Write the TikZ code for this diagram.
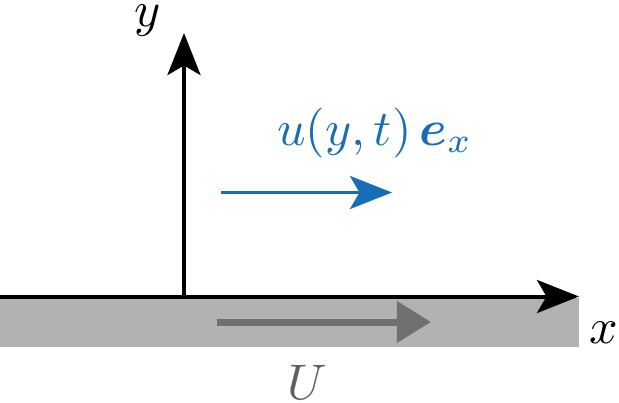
\documentclass[tikz,border=0pt]{standalone}
\usepackage{amssymb}
\usepackage{amsmath}
\usepackage{tikz}
\usetikzlibrary{arrows.meta,positioning}
\definecolor{flowblue}{RGB}{23,110,181}
\definecolor{wallgray}{RGB}{178,178,178}
\definecolor{walldark}{RGB}{112,112,112}
\definecolor{labelgray}{RGB}{96,96,96}

\begin{document}
\begin{tikzpicture}[x=0.2pt,y=-0.2pt,line width=0.8pt,
                    >={Stealth[length=8.4pt,width=6.6pt,inset=1.9pt]}]
  \tikzstyle{axis}=[->,black]
  \tikzstyle{flow}=[->,flowblue,line width=0.7pt]
  \tikzstyle{wall}=[-{Triangle[length=6.8pt,width=8pt]},walldark,line width=1.4pt]
  \useasboundingbox (0,0) rectangle (619,403);

  % moving plate
  \fill[wallgray] (0,298) rectangle (579,347);

  \coordinate (O) at (184,296.5);
  \coordinate (xs) at (0,296.5);
  \coordinate (xe) at (579,296.5);
  \coordinate (ye) at (184,33);
  \coordinate (us) at (221,192.5);
  \coordinate (ue) at (392,192.5);
  \coordinate (Us) at (217,322);
  \coordinate (Ue) at (431,322);

  \node (ylab) at (148,21) {$y$};
  \node (xlab) at (604,333) {$x$};
  \node[text=labelgray] (Ulab) at (307,382) {$U$};
  \node[text=flowblue,anchor=base] (ulab) at (375,145) {$u(y,t)\,\boldsymbol{e}_x$};

  \draw[axis] (xs) -- (xe);
  \draw[axis] (O) -- (ye);
  \draw[flow] (us) -- (ue);
  \draw[wall] (Us) -- (Ue);
\end{tikzpicture}
\end{document}
